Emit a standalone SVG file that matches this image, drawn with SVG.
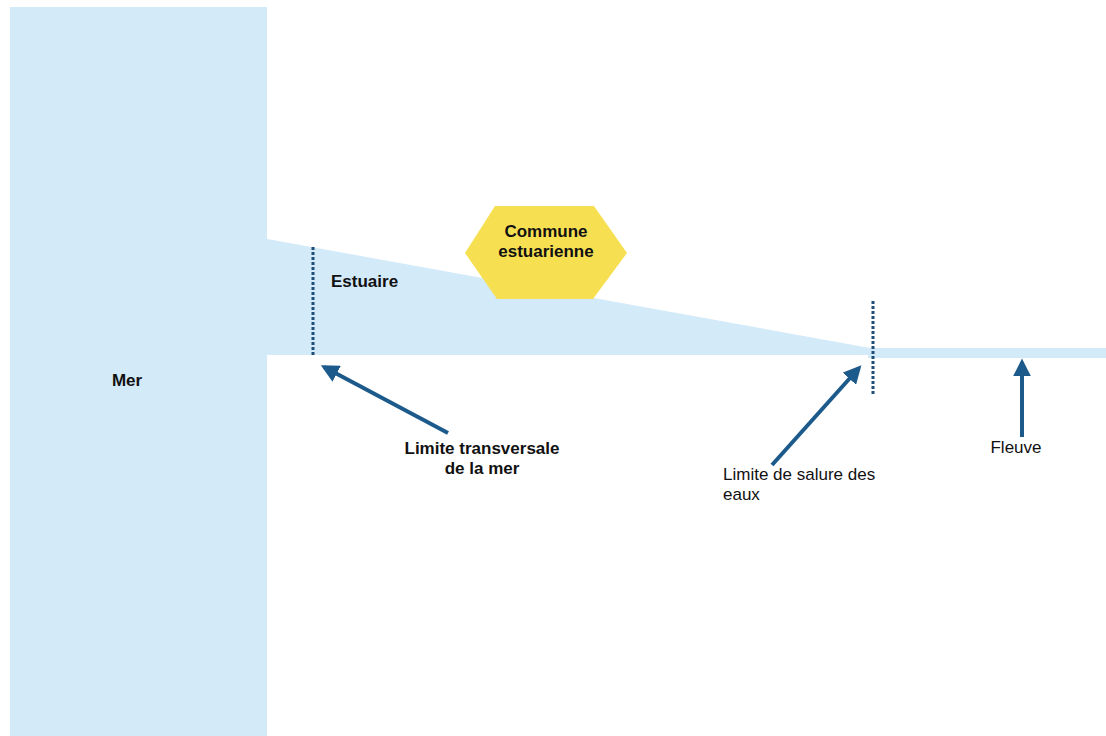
<svg xmlns="http://www.w3.org/2000/svg" width="1106" height="736" viewBox="0 0 1106 736">
<defs>
<style>
.water{fill:#D3EAF9}
.lbl{font-family:"Liberation Sans",Arial,sans-serif;font-size:17px;fill:#111}
.b{font-weight:bold}
.lim{stroke:#1F4E79;stroke-width:3;stroke-dasharray:3 2;fill:none}
.arr{stroke:#1C5A8C;stroke-width:4;fill:none;marker-end:url(#ah)}
</style>
<marker id="ah" viewBox="0 0 10 10" refX="8" refY="5" markerWidth="4.5" markerHeight="4.5" orient="auto" markerUnits="strokeWidth">
<path d="M0,0 L10,5 L0,10 z" fill="#1C5A8C"/>
</marker>
</defs>
<rect width="1106" height="736" fill="#fff"/>
<g id="mer">
<rect class="water" x="10" y="7" width="257" height="729"/>
<text class="lbl b" x="127" y="386" text-anchor="middle">Mer</text>
</g>
<g id="estuaire">
<polygon class="water" points="267,239 870,348 870,355 267,355"/>
<text class="lbl b" x="331" y="287">Estuaire</text>
</g>
<g id="fleuve">
<rect class="water" x="868" y="348" width="238" height="10"/>
<text class="lbl" x="1016" y="453" text-anchor="middle">Fleuve</text>
</g>
<g id="commune">
<polygon points="465,253 495,206 594,206 627,253 593,299 497,299" fill="#F6E052"/>
<text class="lbl b" x="546" y="237" text-anchor="middle">Commune</text>
<text class="lbl b" x="546" y="257" text-anchor="middle">estuarienne</text>
</g>
<g id="limite-transversale">
<line class="lim" x1="313" y1="247" x2="313" y2="355"/>
<text class="lbl b" x="482" y="454" text-anchor="middle">Limite transversale</text>
<text class="lbl b" x="482" y="474" text-anchor="middle">de la mer</text>
</g>
<g id="limite-salure">
<line class="lim" x1="873" y1="301" x2="873" y2="396"/>
<text class="lbl" x="723" y="480">Limite de salure des</text>
<text class="lbl" x="723" y="500">eaux</text>
</g>
<g id="connectors">
<line class="arr" x1="448" y1="433" x2="324" y2="367"/>
<line class="arr" x1="772" y1="465" x2="859" y2="368"/>
<line class="arr" x1="1022" y1="437" x2="1022" y2="362"/>
</g>
</svg>
